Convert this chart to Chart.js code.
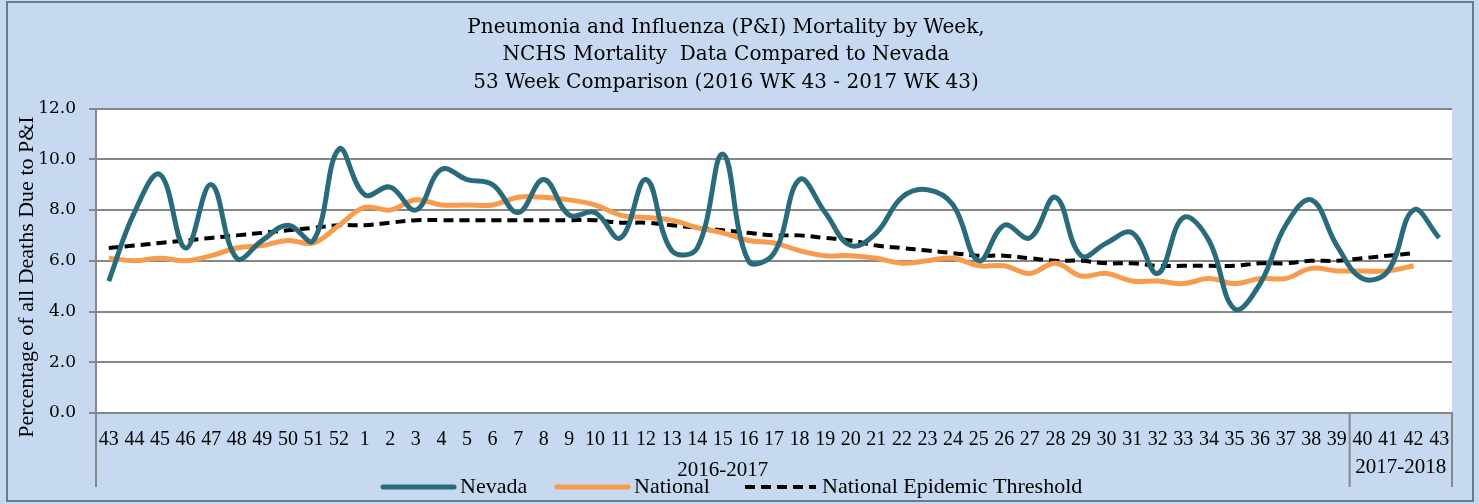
<!DOCTYPE html>
<html>
<head>
<meta charset="utf-8">
<script src="https://cdn.jsdelivr.net/npm/chart.js@4/dist/chart.umd.min.js"></script>
<style>
  html, body { margin: 0; padding: 0; background: #c6d9f1; }
  #wrap { width: 1479px; height: 504px; }
</style>
</head>
<body>
<div id="wrap"><canvas id="chart" width="1479" height="504"></canvas></div>
<script>
const weeks = ['43', '44', '45', '46', '47', '48', '49', '50', '51', '52',
  '1', '2', '3', '4', '5', '6', '7', '8', '9', '10', '11', '12', '13', '14', '15', '16', '17', '18', '19', '20',
  '21', '22', '23', '24', '25', '26', '27', '28', '29', '30', '31', '32', '33', '34', '35', '36', '37', '38', '39',
  '40', '41', '42', '43'];

const seasonLabels = ['2016-2017', '2017-2018'];
const seasonSizes = [49, 4];

const nevada = [5.2, 7.9, 9.4, 6.5, 9.0, 6.1, 6.8, 7.4, 6.8, 10.4,
  8.6, 8.9, 8.0, 9.6, 9.2, 9.0, 7.9, 9.2, 7.8, 7.9, 6.9, 9.2, 6.4, 6.5, 10.2, 6.0, 6.3, 9.2, 7.9, 6.6,
  7.1, 8.5, 8.8, 8.2, 6.0, 7.4, 6.9, 8.5, 6.2, 6.7, 7.1, 5.5, 7.7, 6.8, 4.1, 5.1, 7.4, 8.4, 6.6,
  5.3, 5.6, 8.0, 6.9];

const national = [6.1, 6.0, 6.1, 6.0, 6.2, 6.5, 6.6, 6.8, 6.7, 7.4,
  8.1, 8.0, 8.4, 8.2, 8.2, 8.2, 8.5, 8.5, 8.4, 8.2, 7.8, 7.7, 7.6, 7.3, 7.1, 6.8, 6.7, 6.4, 6.2, 6.2,
  6.1, 5.9, 6.0, 6.1, 5.8, 5.8, 5.5, 5.9, 5.4, 5.5, 5.2, 5.2, 5.1, 5.3, 5.1, 5.3, 5.3, 5.7, 5.6,
  5.6, 5.6, 5.8, null];

const threshold = [6.5, 6.6, 6.7, 6.8, 6.9, 7.0, 7.1, 7.2, 7.3, 7.4,
  7.4, 7.5, 7.6, 7.6, 7.6, 7.6, 7.6, 7.6, 7.6, 7.6, 7.5, 7.5, 7.4, 7.3, 7.2, 7.1, 7.0, 7.0, 6.9, 6.8,
  6.6, 6.5, 6.4, 6.3, 6.2, 6.2, 6.1, 6.0, 6.0, 5.9, 5.9, 5.8, 5.8, 5.8, 5.8, 5.9, 5.9, 6.0, 6.0,
  6.1, 6.2, 6.3, null];

const titleLines = [
  'Pneumonia and Influenza (P&I) Mortality by Week,',
  'NCHS Mortality  Data Compared to Nevada',
  '53 Week Comparison (2016 WK 43 - 2017 WK 43)'
];
const yTitle = 'Percentage of all Deaths Due to P&I';

const gridGray = '#878787';
const serif = "'Liberation Serif', serif";

// background, frame, axis title, season groups and legend
const decor = {
  id: 'decor',
  beforeDraw(chart) {
    const { ctx, chartArea: a } = chart;
    ctx.save();
    ctx.fillStyle = '#c6d9f1';
    ctx.fillRect(0, 0, chart.width, chart.height);
    ctx.fillStyle = '#ffffff';
    ctx.fillRect(a.left, a.top, a.right - a.left, a.bottom - a.top);
    ctx.strokeStyle = '#6b7b8f';
    ctx.lineWidth = 2;
    ctx.strokeRect(7, 2, 1466, 499);
    ctx.restore();
  },
  afterDraw(chart) {
    const { ctx, chartArea: a } = chart;
    const x = chart.scales.x;
    ctx.save();

    // y axis title
    ctx.fillStyle = '#000';
    ctx.font = '22px ' + serif;
    ctx.textAlign = 'center';
    ctx.textBaseline = 'middle';
    ctx.translate(27, 277);
    ctx.rotate(-Math.PI / 2);
    ctx.fillText(yTitle, 0, 0);
    ctx.setTransform(1, 0, 0, 1, 0, 0);

    // season separators and labels
    ctx.strokeStyle = gridGray;
    ctx.lineWidth = 2;
    let start = 0;
    const edges = [x.left];
    seasonSizes.forEach((n, i) => {
      const end = start + n;
      const right = end < weeks.length
        ? (x.getPixelForTick(end - 1) + x.getPixelForTick(end)) / 2
        : x.right;
      edges.push(right);
      const left = edges[i];
      ctx.fillStyle = '#000';
      ctx.font = '21px ' + serif;
      ctx.textAlign = 'center';
      ctx.textBaseline = 'middle';
      ctx.fillText(seasonLabels[i], (left + right) / 2, i === 0 ? 470 : 467);
      start = end;
    });
    edges.forEach(e => {
      ctx.beginPath();
      ctx.moveTo(e, a.bottom);
      ctx.lineTo(e, 487);
      ctx.stroke();
    });

    // legend
    const legendX = [383, 557, 745];
    const legendY = 487;
    chart.data.datasets.forEach((ds, i) => {
      ctx.strokeStyle = ds.borderColor;
      ctx.lineWidth = ds.borderWidth;
      ctx.setLineDash(ds.borderDash || []);
      ctx.lineCap = ds.borderDash ? 'butt' : 'round';
      ctx.beginPath();
      ctx.moveTo(legendX[i], legendY);
      ctx.lineTo(legendX[i] + 71, legendY);
      ctx.stroke();
      ctx.setLineDash([]);
      ctx.fillStyle = '#000';
      ctx.font = '22px ' + serif;
      ctx.textAlign = 'left';
      ctx.textBaseline = 'middle';
      ctx.fillText(ds.label, legendX[i] + 77, legendY);
    });
    ctx.restore();
  }
};

new Chart(document.getElementById('chart'), {
  type: 'line',
  data: {
    labels: weeks,
    datasets: [
      {
        label: 'Nevada',
        data: nevada,
        borderColor: '#296b7b',
        borderWidth: 5,
        pointRadius: 0,
        tension: 0.4
      },
      {
        label: 'National',
        data: national,
        borderColor: '#f79b4d',
        borderWidth: 5,
        pointRadius: 0,
        tension: 0.4
      },
      {
        label: 'National Epidemic Threshold',
        data: threshold,
        borderColor: '#000000',
        borderWidth: 4,
        borderDash: [10, 6],
        pointRadius: 0,
        tension: 0.4
      }
    ]
  },
  options: {
    responsive: false,
    animation: false,
    devicePixelRatio: 1,
    layout: { padding: { left: 0, right: 27, top: 0, bottom: 0 } },
    plugins: {
      legend: { display: false },
      tooltip: { enabled: false },
      title: {
        display: true,
        text: titleLines,
        color: '#000',
        font: { family: "'DejaVu Serif', serif", size: 20, weight: 'normal', lineHeight: 1.375 },
        padding: { top: 14, bottom: 12 }
      }
    },
    scales: {
      x: {
        offset: true,
        grid: { display: false, drawTicks: false },
        border: { display: true, color: gridGray, width: 2 },
        ticks: {
          color: '#000',
          autoSkip: false,
          maxRotation: 0,
          padding: 15,
          font: { family: serif, size: 20 }
        },
        afterFit(scale) { scale.height = 91; }
      },
      y: {
        min: 0,
        max: 12,
        grid: { color: gridGray, lineWidth: 2, tickLength: 7, drawTicks: true },
        border: { display: true, color: gridGray, width: 2 },
        ticks: {
          stepSize: 2,
          color: '#000',
          padding: 13,
          font: { family: "'DejaVu Serif', serif", size: 17 },
          callback: v => v.toFixed(1)
        },
        afterFit(scale) { scale.width = 96; }
      }
    }
  },
  plugins: [decor]
});
</script>
</body>
</html>
